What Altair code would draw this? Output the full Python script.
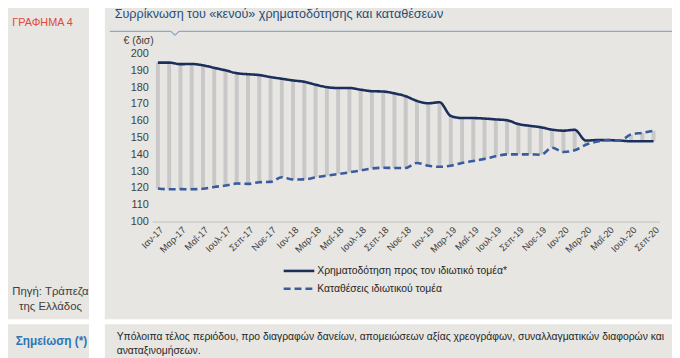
import altair as alt
import pandas as pd

# ---------------- data ----------------
month_names = ["Ιαν", "Φεβ", "Μαρ", "Απρ", "Μαΐ", "Ιουν", "Ιουλ", "Αυγ", "Σεπ", "Οκτ", "Νοε", "Δεκ"]
years = ["17", "18", "19", "20"]
months = [f"{m}-{y}" for y in years for m in month_names][:45]  # Ιαν-17 .. Σεπ-20

loans = [194.6, 194.6, 193.7, 193.8, 193.0, 191.5, 190.0, 188.3, 187.7, 187.2, 186.0, 185.0,
         184.0, 183.2, 181.5, 180.0, 179.5, 179.5, 178.5, 177.6, 177.4, 176.3, 174.6, 171.8,
         170.4, 171.0, 162.9, 161.6, 161.6, 161.3, 160.8, 160.3, 158.0, 157.0, 156.1, 154.7,
         154.1, 154.6, 148.2, 148.5, 148.4, 148.2, 147.8, 147.8, 147.8]
deposits = [119.7, 119.2, 119.3, 119.2, 119.5, 120.6, 121.4, 122.6, 122.4, 123.4, 123.6, 126.4,
            125.0, 125.1, 126.3, 127.3, 128.3, 129.3, 130.4, 131.6, 132.0, 131.9, 131.9, 134.9,
            133.2, 132.6, 133.2, 134.9, 136.0, 137.3, 138.8, 140.0, 140.0, 140.0, 139.8, 143.9,
            141.4, 142.4, 145.7, 147.6, 148.6, 148.3, 151.8, 152.8, 154.0]

series_names = ["Χρηματοδότηση προς τον ιδιωτικό τομέα*", "Καταθέσεις ιδιωτικού τομέα"]
tick_labels = months[::2]
y_ticks = list(range(100, 201, 10))

title_text = "Συρρίκνωση του «κενού» χρηματοδότησης και καταθέσεων"
chart_no = "ΓΡΑΦΗΜΑ 4"
source_lines = ["Πηγή: Τράπεζα", "της Ελλάδος"]
note_label = "Σημείωση (*)"
note_lines = ["Υπόλοιπα τέλος περιόδου, προ διαγραφών δανείων, απομειώσεων αξίας χρεογράφων, συναλλαγματικών διαφορών και",
              "αναταξινομήσεων."]
unit_text = "€ (δισ)"

wide = pd.DataFrame({"month": months, "loans": loans, "deposits": deposits})
long = pd.concat([
    pd.DataFrame({"month": months, "value": loans, "series": series_names[0]}),
    pd.DataFrame({"month": months, "value": deposits, "series": series_names[1]}),
])
one = pd.DataFrame({"k": [0]})

FONT = "Liberation Sans"
CELL = "#E7E6E2"
NAVY = "#1C2F5C"
BLUE = "#3A5C9E"

xenc = alt.X("month:O", sort=months,
             scale=alt.Scale(type="point", domain=months, padding=0.5),
             axis=alt.Axis(values=tick_labels, labelAngle=315, labelFontSize=9.5,
                           labelColor="#404040", domainColor="#BFBFBF", ticks=False,
                           labelPadding=3, title=None, grid=False, labelFont=FONT,
                           labelOverlap=False, zindex=1))
yscale = alt.Scale(domain=[100, 200], nice=False, zero=False)
yaxis = alt.Axis(values=y_ticks, tickCount=11, domain=False, ticks=False, grid=False,
                 labelFontSize=11, labelColor="#404040", labelPadding=4,
                 labelOverlap=False, labelFlush=False,
                 title=None, labelFont=FONT, zindex=1)


def rect(x, x2, y, y2, color=CELL):
    return alt.Chart(one).mark_rect(color=color).encode(
        x=alt.value(x), x2=alt.value(x2), y=alt.value(y), y2=alt.value(y2))


def rule(x, x2, y, y2, color="#8DA9C4", w=1.2, dash=None):
    kw = dict(color=color, strokeWidth=w)
    if dash:
        kw["strokeDash"] = dash
    return alt.Chart(one).mark_rule(**kw).encode(
        x=alt.value(x), x2=alt.value(x2), y=alt.value(y), y2=alt.value(y2))


def text(t, x, y, size=11, color="#404040", align="left", weight="normal"):
    return alt.Chart(one).mark_text(text=t, fontSize=size, color=color, align=align,
                                    baseline="middle", font=FONT, fontWeight=weight).encode(
        x=alt.value(x), y=alt.value(y))


# page coords -> plot coords: subtract (154, 52)
decor = [
    rect(-160, -64, -60, 269),
    rect(-48, 530, -60, 269),
    rect(-160, -64, 274, 310),
    rect(-48, 530, 274, 310),
    rule(-43, 19, -22.5, -22.5),
    rule(19, 23, -22.5, -18.5),
    rule(23, 27, -18.5, -22.5),
    rule(27, 530, -22.5, -22.5),
    text(title_text, -38, -40, size=12.75, color="#1F4E79"),
    text(chart_no, -111, -31, size=11, color="#E0483D", align="center"),
    text(source_lines[0], -103, 241, size=11.5, align="center"),
    text(source_lines[1], -103, 257, size=11.5, align="center"),
    text(note_label, -102, 291, size=12, color="#2E75B6", align="center", weight="bold"),
    text(note_lines[0], -36, 287, size=10.5, color="#262626"),
    text(note_lines[1], -36, 301, size=10.5, color="#262626"),
    text(unit_text, -29, -12.5, size=10.5),
]

# legend (drawn manually to match the source layout)
legend_marks = [
    rule(133, 164, 220, 220, color=NAVY, w=2.6),
    text(series_names[0], 167, 220, size=10.5, color="#262626"),
    rule(133, 164, 238, 238, color=BLUE, w=2.6, dash=[7, 4]),
    text(series_names[1], 167, 238, size=10.5, color="#262626"),
]

bars = alt.Chart(wide).mark_bar(width=4, color="#C8C8C8").encode(
    x=xenc,
    y=alt.Y("deposits:Q", scale=yscale, axis=yaxis),
    y2="loans:Q",
)

lines = alt.Chart(long).mark_line(strokeWidth=2.6, interpolate="monotone").encode(
    x=xenc,
    y=alt.Y("value:Q", scale=yscale, axis=yaxis),
    color=alt.Color("series:N", sort=series_names,
                    scale=alt.Scale(domain=series_names, range=[NAVY, BLUE]),
                    legend=None),
    strokeDash=alt.StrokeDash("series:N", sort=series_names,
                              scale=alt.Scale(domain=series_names, range=[[1, 0], [7, 4]]),
                              legend=None),
)

chart = alt.layer(*decor, bars, lines, *legend_marks).properties(
    width=513, height=170,
    autosize=alt.AutoSizeParams(type="none"),
    padding={"left": 146, "top": 44, "right": 13, "bottom": 136},
    background="white",
).configure_view(strokeWidth=0)

chart.save("out.html", embed_options={"renderer": "svg", "actions": False})
